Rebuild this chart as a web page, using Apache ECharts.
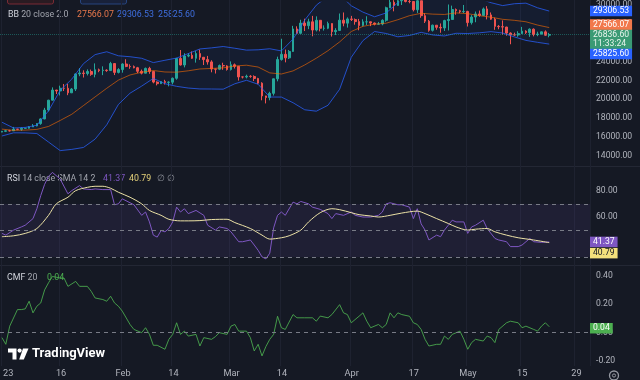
<!DOCTYPE html>
<html><head><meta charset="utf-8">
<script src="https://cdn.jsdelivr.net/npm/echarts@6/dist/echarts.min.js"></script>
<style>html,body{margin:0;padding:0;background:#151924;}#c{width:640px;height:380px;}</style>
</head><body><div id="c"></div>
<script>
// ---------- categories (daily, 2023-01-01 .. 2023-06-01) ----------
const dates = [];
for (let i = 0; i < 152; i++) { dates.push(new Date(Date.UTC(2023, 0, 1 + i)).toISOString().slice(0, 10)); }
const tickDates = ['2023-01-01','2023-01-16','2023-02-01','2023-02-14','2023-03-01','2023-03-14','2023-04-01','2023-04-17','2023-05-01','2023-05-15','2023-05-29'];
const tickLabels = ['23','16','Feb','14','Mar','14','Apr','17','May','15','29'];

// ---------- candles (Jan 1 .. May 22) ----------
const candleOpen = [
16547,16625,16688,16680,16863,16836,16951,16955,17091,17196,17446,17934,18869,19909,20976,20880,21169,21161,20688,21086,22676,22777,22720,22934,22636,23117,23032,23078,23031,23774,22840,
23139,23723,23471,23449,23331,22955,22760,23264,22939,21819,21651,21870,21788,21808,22220,24307,23623,24565,24641,24327,24829,24436,24188,23947,23198,23175,23561,23522,
23147,23646,23476,22362,22354,22430,22410,22197,21705,20363,20187,20633,22163,24198,24746,24375,25052,27423,26965,28038,27767,28176,27307,28333,27493,27494,27994,27139,27268,28348,28033,
28478,28411,28199,27790,28168,28177,28044,27925,27947,28333,29652,30235,29892,30400,30485,30318,30315,29445,30397,28823,28245,27276,27817,27591,27525,28307,28422,29473,29340,29248,
29268,28091,28680,29006,28847,29534,28904,28454,27694,27658,27621,26987,26805,26785,26930,27192,27036,27398,26832,26889,27118,26760];
const candleClose = [
16625,16688,16680,16863,16836,16951,16955,17091,17196,17446,17934,18869,19909,20976,20880,21169,21161,20688,21086,22676,22777,22720,22934,22636,23117,23032,23078,23031,23774,22840,23139,
23723,23471,23449,23331,22955,22760,23264,22939,21819,21651,21870,21788,21808,22220,24307,23623,24565,24641,24327,24829,24436,24188,23947,23198,23175,23561,23522,23147,
23646,23476,22362,22354,22430,22410,22197,21705,20363,20187,20633,22163,24198,24746,24375,25052,27423,26965,28038,27767,28176,27307,28333,27493,27494,27994,27139,27268,28348,28033,28478,
28411,28199,27790,28168,28177,28044,27925,27947,28333,29652,30235,29892,30400,30485,30318,30315,29445,30397,28823,28245,27276,27817,27591,27525,28307,28422,29473,29340,29248,29268,
28091,28680,29006,28847,29534,28904,28454,27694,27658,27621,26987,26805,26785,26930,27192,27036,27398,26832,26889,27118,26760,26836.60];
const candleLow = [
16528,16548,16610,16659,16753,16676,16909,16911,17086,17153,17319,17900,18720,19890,20560,20410,20880,20440,20660,20880,22440,22300,22520,22480,22320,22860,22550,22900,23000,22560,22730,
22810,23390,23220,23270,22770,22630,22750,22690,21690,21470,21630,21560,21370,21580,22070,23560,23370,24440,24260,23870,24160,23620,23660,22850,22720,23080,23110,23030,
23040,23250,21980,22200,22210,22270,21930,21600,19900,19570,19900,20400,21900,24080,23900,24250,25000,26900,26880,27200,27400,26650,27160,27170,27250,27400,26620,26780,27220,27700,27560,
28260,27870,27280,27680,27840,27720,27800,27880,27810,28180,29620,29280,29860,29950,30220,30130,29270,29110,28600,28050,27130,27150,27340,27020,27210,27260,28400,28920,29090,29100,
27680,27890,28130,28700,28810,28430,28390,27330,27390,26810,26710,25810,26700,26600,26890,26900,26590,26640,26660,26850,26700,26540];
const candleHigh = [
16630,16760,16783,17091,16877,17040,16996,17176,17390,17484,18000,19100,19950,21260,21000,21440,21620,21640,21190,22740,23300,23060,23160,23140,23790,23240,23480,23160,23950,23800,23290,
23800,24230,23690,23570,23420,23140,23350,23430,23000,21900,21900,22060,21900,22300,24380,25200,24860,24870,25050,25090,25250,24440,24580,24120,23210,23670,23860,23600,
24000,23780,23480,22400,22600,22550,22530,22270,21800,20370,20800,22190,24500,26390,25250,25200,27750,27700,28390,28500,28500,28800,28750,28370,27800,28190,28010,27500,29050,29160,28640,
28800,28530,28480,28440,28760,28190,28100,28160,28440,29770,30550,30460,30600,31000,30600,30540,30320,30470,30410,29080,28370,27880,27820,28000,28390,30000,29880,29580,29440,29950,
29340,28880,29260,29360,29680,29830,29160,28620,27830,28320,27650,27060,27030,27180,27640,27280,27480,27480,27130,27150,27270,27000];
const countdown = '11:33:24';

// ---------- Bollinger Bands (20, 2) read every 3rd day ----------
const bbDay = [0,3,6,9,12,15,18,21,24,27,30,33,36,39,42,45,48,51,54,57,60,63,66,69,72,75,78,81,84,87,90,93,96,99,102,105,108,111,114,117,120,123,126,129,132,135,138,141];
const bbUpper = [17588,16980,17043,17269,18791,20949,22136,23761,24715,25018,24593,24493,24329,23873,24121,24353,24826,25311,25427,25571,25388,25190,25222,25334,25105,26356,28353,29933,30888,31047,29866,29198,28709,29111,30198,30909,31080,31182,31217,31265,31128,30630,30188,29884,30080,30142,29651,29306.53];
const bbBasis = [16860,16724,16753,16831,17143,17771,18428,19343,20259,21166,22025,22569,22861,23039,22883,22861,23008,23203,23257,23321,23514,23598,23406,22788,22671,22998,23625,24341,25130,26055,27152,27694,27929,28027,28396,28821,29072,28984,28949,29115,29034,28822,28662,28438,28332,28178,27831,27566.07];
const bbLower = [16132,16468,16463,16393,15495,14593,14720,14925,15803,17314,19457,20645,21393,22205,21645,21369,21190,21095,21087,21071,21640,22006,21590,20242,20237,19640,18897,18749,19372,21063,24438,26190,27149,26943,26594,26733,27064,26786,26681,26965,26940,27014,27136,26992,26584,26214,26011,25825.60];

// ---------- RSI 14 and its SMA 14 ----------
const rsiDay = [0,1,3,5,6,8,9,10,11,12,13,15,17,18,20,21,23,24,26,28,29,30,31,33,34,36,37,38,39,40,41,42,43,44,45,46,47,48,50,52,53,55,56,58,59,61,62,64,65,66,67,68,69,70,71,72,73,75,76,77,79,80,82,84,85,86,88,90,91,93,95,97,98,99,100,102,103,105,106,107,108,109,110,112,113,114,115,116,117,119,120,121,122,124,125,127,128,130,131,133,134,136,137,139,141];
const rsiVal = [47.8,46.5,50.3,52.7,54,59,66.5,76.5,85,91,94,89,77.8,80.2,84,81.5,81,81.5,81,81,69.5,70.2,74,71,69.5,61.5,64,56.5,46.5,45,50,49,51.5,56.5,67.7,64,66.5,62.8,65.2,61.5,54,50.3,52.7,51.5,49,41.5,41.5,42.8,39,35,30,28.5,32.8,52,61.5,64,61.5,71.5,70.2,72,70.2,67.7,66,62.8,59,62.8,61.5,64,61.5,60.2,60.2,61.5,64,70.2,71,69.5,69.5,67.7,59,66.5,55,50.3,42.8,46.5,45.3,50.3,54,57.8,56.5,56.5,47.8,52.7,54,57.8,51.5,44,42.8,41.5,37.8,37.8,39,44,41.5,41,41.37];
const rsiMaDay = [0,3,6,9,12,14,17,19,22,24,26,28,30,33,36,38,41,43,46,48,51,54,58,60,64,67,69,72,74,77,79,82,85,87,90,92,95,97,100,103,107,109,112,115,117,120,122,125,127,130,133,137,141];
const rsiMaVal = [45.3,46,47.8,51.5,61.5,70.2,75.2,80.2,82.7,83.5,83.5,82,79,75.2,70.2,65.2,61.5,58.5,57.3,57.3,57.5,58.3,58.5,56,51.5,46.5,43.5,44.5,46,50.3,56.5,63.5,66.5,65.8,63.5,62,61,60.2,61.5,63.2,64.7,62.8,59,55.3,52.7,50.3,51,51.5,49,46.5,44.5,42.8,40.79];
const rsiLevels = [70, 50, 30];

// ---------- CMF 20 ----------
const cmfDay = [0,1,2,4,5,6,7,8,9,10,11,12,13,15,16,17,19,20,22,23,24,26,27,28,29,30,31,33,34,36,37,38,39,40,42,43,44,45,46,47,48,50,51,52,54,55,56,58,59,60,61,63,64,65,66,67,68,69,70,71,72,73,75,76,78,80,81,82,84,85,87,88,89,90,92,93,94,95,97,98,99,100,101,102,103,105,106,107,108,109,110,112,113,114,115,116,118,119,120,121,122,124,125,126,127,128,130,131,133,134,135,137,138,139,140,141];
const cmfVal = [-0.037,-0.084,0.044,0.161,0.161,0.166,0.22,0.138,0.185,0.208,0.3,0.35,0.395,0.384,0.384,0.325,0.36,0.325,0.325,0.29,0.243,0.232,0.22,0.255,0.208,0.185,0.15,0.056,0.021,-0.002,0.033,-0.014,-0.091,-0.091,-0.119,-0.049,-0.014,0.068,-0.014,0.009,-0.026,-0.014,-0.096,-0.037,-0.049,-0.03,-0.002,-0.014,0.044,0.056,0.009,0.009,-0.037,-0.131,-0.084,-0.166,-0.1,-0.049,-0.014,0.114,0.033,0.021,0.126,0.103,0.103,0.103,0.079,0.115,0.103,0.126,0.196,0.138,0.126,0.068,0.114,0.138,0.079,0.033,0.056,0.033,0.056,0.138,0.103,0.138,0.126,0.114,0.068,0.056,0.021,-0.049,-0.096,-0.084,-0.084,-0.026,-0.049,-0.014,0.009,-0.049,-0.119,-0.072,-0.049,-0.061,-0.026,-0.037,-0.072,0.021,0.068,0.079,0.068,0.033,0.044,0.021,0.009,0.044,0.068,0.04];

// ---------- build ----------
const FONT = 'Roboto, "Noto Sans", sans-serif';
const AX = '#b2b5be';
const NONE = 'rgba(0,0,0,0)';
const last = a => a[a.length - 1];
const pairs = (d, v) => d.map((x, i) => [x, v[i]]);
const candles = candleOpen.map((o, i) => [o, candleClose[i], candleLow[i], candleHigh[i]]);
const isTick = (idx, val) => tickDates.indexOf(val) >= 0;

function badge(value, text, bg, fg, dy) {
  return { yAxis: value, lineStyle: { color: NONE, width: 1 },
    label: { show: true, position: 'end', distance: 0, formatter: text, backgroundColor: bg, color: fg,
      fontSize: 8.6, fontFamily: FONT, padding: [1, 3, 0, 3], lineHeight: 9.5, offset: [0, dy] } };
}

const chart = echarts.init(document.getElementById('c'), null, { renderer: 'canvas' });
const xAx = i => ({
  type: 'category', gridIndex: i, data: dates, boundaryGap: true,
  axisLine: { show: false },
  axisTick: { show: false, alignWithLabel: true, interval: isTick },
  axisLabel: i === 3 ? { show: true, interval: isTick, formatter: v => tickLabels[tickDates.indexOf(v)],
    color: AX, fontSize: 9.2, fontFamily: FONT, margin: 3, alignMinLabel: 'left' } : { show: false },
  splitLine: i === 3 ? { show: true, interval: isTick, lineStyle: { color: '#1e2230', width: 1 } } : { show: false }
});
const yLab = f => ({ color: AX, fontSize: 8.6, fontFamily: FONT, margin: 6, formatter: f });
const F = '8.8px ' + FONT;

const option = {
  animation: false,
  backgroundColor: '#151924',
  grid: [
    { left: 0, right: 50, top: 0, height: 175.2 },
    { left: 0, right: 50, top: 164.5, height: 105.6 },
    { left: 0, right: 50, top: 247.4, height: 127.5 },
    { left: 0, right: 50, top: 0, height: 366 }
  ],
  xAxis: [xAx(0), xAx(1), xAx(2), xAx(3)],
  yAxis: [
    { type: 'value', gridIndex: 0, position: 'right', min: 12000, max: 30250, interval: 2000,
      axisLine: { show: false }, axisTick: { show: false }, splitLine: { show: false },
      axisLabel: yLab(v => (v < 14000 || v > 30000) ? '' : v.toFixed(2)) },
    { type: 'value', gridIndex: 1, position: 'right', min: 20, max: 100, interval: 20,
      axisLine: { show: false }, axisTick: { show: false }, splitLine: { show: false },
      axisLabel: yLab(v => (v === 60 || v === 80) ? v.toFixed(2) : '') },
    { type: 'value', gridIndex: 2, position: 'right', min: -0.3, max: 0.6, interval: 0.1,
      axisLine: { show: false }, axisTick: { show: false }, splitLine: { show: false },
      axisLabel: yLab(v => { const r = Math.round(v * 100) / 100; const k = Math.round(r * 10); return (k === -2 || k === 0 || k === 2 || k === 4) ? r.toFixed(2) : ''; }) },
    { type: 'value', gridIndex: 3, show: false, min: 0, max: 1 }
  ],
  series: [
    { type: 'custom', xAxisIndex: 0, yAxisIndex: 0, silent: true, z: 1, data: [[0, bbBasis[0]]],
      renderItem: function (params, api) {
        const pts = [];
        for (let i = 0; i < bbDay.length; i++) pts.push(api.coord([bbDay[i], bbUpper[i]]));
        for (let i = bbDay.length - 1; i >= 0; i--) pts.push(api.coord([bbDay[i], bbLower[i]]));
        return { type: 'polygon', shape: { points: pts }, style: { fill: 'rgba(41,98,255,0.06)' } };
      } },
    { type: 'candlestick', xAxisIndex: 0, yAxisIndex: 0, data: candles, barWidth: 2.2, z: 3,
      itemStyle: { color: '#26a69a', color0: '#ef5350', borderColor: '#26a69a', borderColor0: '#ef5350', borderWidth: 1 },
      markLine: { symbol: ['none', 'none'], silent: true, z: 10, data: [
        { yAxis: last(candleClose), lineStyle: { type: 'dotted', color: 'rgba(38,166,154,0.45)', width: 1 },
          label: { show: true, position: 'end', distance: 0, formatter: last(candleClose).toFixed(2) + '\n' + countdown,
            backgroundColor: '#3a9a74', color: '#e8f5ee', fontSize: 8.6, fontFamily: FONT, padding: [1, 3, 1, 3], lineHeight: 9.5, offset: [0, 5] } }
      ] } },
    { type: 'line', xAxisIndex: 0, yAxisIndex: 0, data: pairs(bbDay, bbUpper), showSymbol: false, z: 4,
      lineStyle: { color: '#2962ff', width: 1, opacity: 0.75 },
      markLine: { symbol: ['none', 'none'], silent: true, z: 12, data: [badge(last(bbUpper), last(bbUpper).toFixed(2), '#2962ff', '#fff', 0)] } },
    { type: 'line', xAxisIndex: 0, yAxisIndex: 0, data: pairs(bbDay, bbBasis), showSymbol: false, z: 4,
      lineStyle: { color: '#ff6d00', width: 1, opacity: 0.6 },
      markLine: { symbol: ['none', 'none'], silent: true, z: 12, data: [badge(last(bbBasis), last(bbBasis).toFixed(2), '#f2784b', '#fff', -3)] } },
    { type: 'line', xAxisIndex: 0, yAxisIndex: 0, data: pairs(bbDay, bbLower), showSymbol: false, z: 4,
      lineStyle: { color: '#2962ff', width: 1, opacity: 0.75 },
      markLine: { symbol: ['none', 'none'], silent: true, z: 12, data: [badge(last(bbLower), last(bbLower).toFixed(2), '#2962ff', '#fff', 10)] } },
    { type: 'line', xAxisIndex: 1, yAxisIndex: 1, data: pairs(rsiDay, rsiVal), showSymbol: false, z: 4,
      lineStyle: { color: '#7e57c2', width: 1 },
      markArea: { silent: true, itemStyle: { color: 'rgba(126,87,194,0.10)' }, data: [[{ yAxis: rsiLevels[2] }, { yAxis: rsiLevels[0] }]] },
      markLine: { symbol: ['none', 'none'], silent: true, z: 10, data: rsiLevels.map(v => ({ yAxis: v, lineStyle: { type: [4, 4], color: '#787b86', width: 1 }, label: { show: false } }))
        .concat([badge(last(rsiVal), last(rsiVal).toFixed(2), '#7e57c2', '#fff', 0)]) } },
    { type: 'line', xAxisIndex: 1, yAxisIndex: 1, data: pairs(rsiMaDay, rsiMaVal), showSymbol: false, smooth: 0.3, z: 5,
      lineStyle: { color: '#ece2a6', width: 1 },
      markLine: { symbol: ['none', 'none'], silent: true, z: 12, data: [badge(last(rsiMaVal), last(rsiMaVal).toFixed(2), '#f3e07c', '#131722', 10.5)] } },
    { type: 'line', xAxisIndex: 2, yAxisIndex: 2, data: pairs(cmfDay, cmfVal), showSymbol: false, z: 4,
      lineStyle: { color: '#4caf50', width: 1, opacity: 0.85 },
      markLine: { symbol: ['none', 'none'], silent: true, z: 10, data: [
        { yAxis: 0, lineStyle: { type: [4, 4], color: '#787b86', width: 1 }, label: { show: false } },
        badge(last(cmfVal), last(cmfVal).toFixed(2), '#4caf50', '#fff', 1.5)] } }
  ],
  graphic: [
    { type: 'line', shape: { x1: 0, y1: 166.5, x2: 640, y2: 166.5 }, style: { stroke: '#232734', lineWidth: 1 }, silent: true },
    { type: 'line', shape: { x1: 0, y1: 265.5, x2: 640, y2: 265.5 }, style: { stroke: '#232734', lineWidth: 1 }, silent: true },
    { type: 'rect', shape: { x: 7.5, y: -9, width: 46, height: 13, r: 2 }, style: { fill: '#2a1b22', stroke: '#7a2b34', lineWidth: 1 }, silent: true },
    { type: 'rect', shape: { x: 80.5, y: -9, width: 46, height: 13, r: 2 }, style: { fill: '#18213a', stroke: '#27457f', lineWidth: 1 }, silent: true },
    // BB legend
    { type: 'text', x: 8, y: 15, style: { text: '{a|BB} {b|20 close 2.0}', font: F, verticalAlign: 'middle',
        rich: { a: { fill: '#d1d4dc', font: F }, b: { fill: '#a3a6af', font: F } } } },
    { type: 'text', x: 77, y: 15, style: { text: last(bbBasis).toFixed(2), fill: '#e8784c', font: F, verticalAlign: 'middle' } },
    { type: 'text', x: 117, y: 15, style: { text: last(bbUpper).toFixed(2), fill: '#3f6fe0', font: F, verticalAlign: 'middle' } },
    { type: 'text', x: 158, y: 15, style: { text: last(bbLower).toFixed(2), fill: '#3f6fe0', font: F, verticalAlign: 'middle' } },
    // RSI legend
    { type: 'text', x: 7, y: 179, style: { text: '{a|RSI} {b|14 close SMA 14 2}', font: F, verticalAlign: 'middle',
        rich: { a: { fill: '#d1d4dc', font: F }, b: { fill: '#a3a6af', font: F } } } },
    { type: 'text', x: 103, y: 179, style: { text: last(rsiVal).toFixed(2), fill: '#7e57c2', font: F, verticalAlign: 'middle' } },
    { type: 'text', x: 129, y: 179, style: { text: last(rsiMaVal).toFixed(2), fill: '#e6d27a', font: F, verticalAlign: 'middle' } },
    { type: 'text', x: 157, y: 179, style: { text: '\u2205 \u2205', fill: '#8a8d96', font: '8.5px ' + FONT, verticalAlign: 'middle' } },
    // CMF legend
    { type: 'text', x: 7, y: 278, style: { text: '{a|CMF} {b|20}', font: F, verticalAlign: 'middle',
        rich: { a: { fill: '#d1d4dc', font: F }, b: { fill: '#a3a6af', font: F } } } },
    { type: 'text', x: 47, y: 278, style: { text: last(cmfVal).toFixed(2), fill: '#4caf50', font: F, verticalAlign: 'middle' } },
    // TradingView logo
    { type: 'polygon', shape: { points: [[8, 348.5], [16.5, 348.5], [16.5, 359.5], [12.5, 359.5], [12.5, 352.5], [8, 352.5]] }, style: { fill: '#ffffff' }, silent: true },
    { type: 'circle', shape: { cx: 19.6, cy: 350.6, r: 2.1 }, style: { fill: '#ffffff' }, silent: true },
    { type: 'polygon', shape: { points: [[23, 348.5], [28.5, 348.5], [23.8, 359.5], [19.2, 359.5]] }, style: { fill: '#ffffff' }, silent: true },
    { type: 'text', x: 32, y: 354, style: { text: 'TradingView', fill: '#ffffff', font: 'bold 13px ' + FONT, verticalAlign: 'middle' } },
    // settings gear
    { type: 'circle', shape: { cx: 614, cy: 375.5, r: 4.5 }, style: { fill: 'none', stroke: '#9598a1', lineWidth: 1.3 }, silent: true },
    { type: 'circle', shape: { cx: 614, cy: 375.5, r: 1.6 }, style: { fill: 'none', stroke: '#9598a1', lineWidth: 1 }, silent: true }
  ]
};
chart.setOption(option);
</script></body></html>
